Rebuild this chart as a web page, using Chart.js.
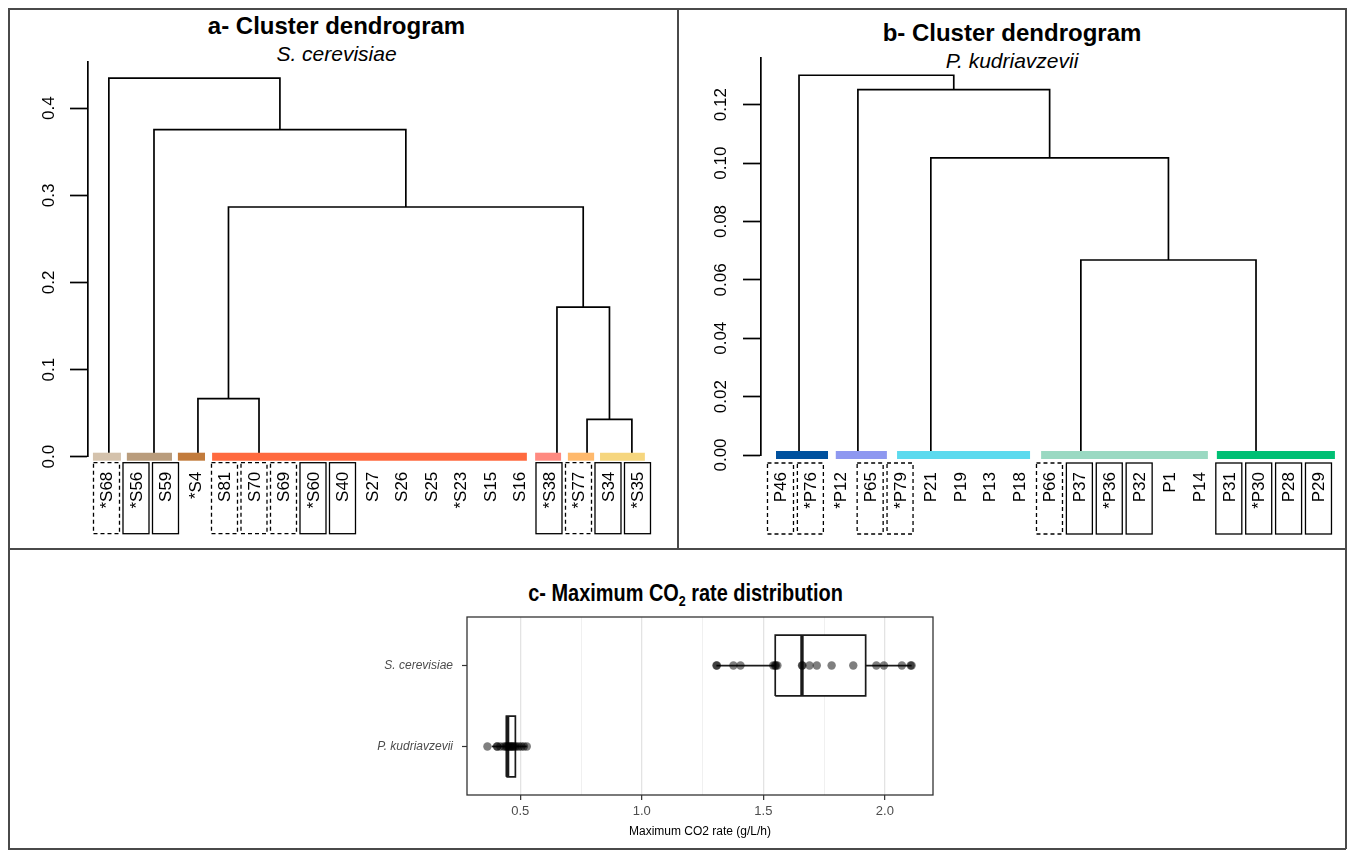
<!DOCTYPE html>
<html>
<head>
<meta charset="utf-8">
<script src="https://cdn.jsdelivr.net/npm/chart.js@4.4.0/dist/chart.umd.min.js"></script>
<style>
  body { margin: 0; background: #fff; width: 1349px; height: 850px; position: relative; overflow: hidden; font-family: "Liberation Sans", Arial, sans-serif; }
  .line { position: absolute; background: #4a4a4a; }
  canvas { position: absolute; }
  .title { position: absolute; text-align: center; font-weight: bold; font-size: 24px; line-height: 24px; color: #000; }
  .sub { position: absolute; text-align: center; font-style: italic; font-size: 21px; line-height: 21px; color: #000; }
  .ctitle span { display: inline-block; transform: scaleX(0.83); }
  .ctitle sub { font-size: 15px; line-height: 0; vertical-align: -5px; }
</style>
</head>
<body>
<div class="line" style="left:8px;top:8px;width:1338px;height:1.5px"></div>
<div class="line" style="left:8px;top:8px;width:1.5px;height:841px"></div>
<div class="line" style="left:1345px;top:8px;width:1.5px;height:841px"></div>
<div class="line" style="left:8px;top:848px;width:1338px;height:1.5px"></div>
<div class="line" style="left:677px;top:8px;width:1.5px;height:541px"></div>
<div class="line" style="left:8px;top:548px;width:1338px;height:2px"></div>

<div class="title" style="left:3px;top:14px;width:667px">a- Cluster dendrogram</div>
<div class="sub" style="left:3px;top:43px;width:667px">S. cerevisiae</div>
<div class="title" style="left:679px;top:21px;width:666px">b- Cluster dendrogram</div>
<div class="sub" style="left:679px;top:50px;width:666px">P. kudriavzevii</div>
<div class="title ctitle" style="left:350px;top:581px;width:672px"><span>c- Maximum CO<sub>2</sub> rate distribution</span></div>

<canvas id="dendA" width="667" height="538" style="left:9px;top:9px"></canvas>
<canvas id="dendB" width="666" height="538" style="left:679px;top:9px"></canvas>
<canvas id="boxC" width="1336" height="297" style="left:9px;top:550px"></canvas>

<script>
// ---- panel a data (S. cerevisiae) ----
const aLeaves = ['*S68', '*S56', 'S59', '*S4', 'S81', 'S70', 'S69', '*S60', 'S40', 'S27', 'S26', 'S25', '*S23', 'S15', 'S16', '*S38', '*S77', 'S34', '*S35'];
const aFrames = ['dash', 'solid', 'solid', 'none', 'dash', 'dash', 'dash', 'solid', 'solid', 'none', 'none', 'none', 'none', 'none', 'none', 'solid', 'dash', 'solid', 'solid'];
const aBarStart = [-0.46, 0.69, 2.42, 3.58, 14.53, 15.64, 16.73];
const aBarEnd = [0.49, 2.22, 3.34, 14.25, 15.41, 16.53, 18.25];
const aClusterX = [0.08, 1.61, 3.10, 5.17, 15.27, 16.29, 17.81];
// hclust style: negative = cluster, positive = earlier merge
const aMerges = [[-3, -4], [-6, -7], [-5, 2], [1, 3], [-2, 4], [-1, 5]];
const aHeights = [0.0667, 0.0429, 0.1716, 0.2866, 0.3755, 0.4344];
const aColors = ['#D4C2AC', '#B99C7C', '#C27B3C', '#FF6A3F', '#FF8A80', '#FFB96C', '#F6D67E'];

// ---- panel b data (P. kudriavzevii) ----
const bLeaves = ['P46', '*P76', '*P12', 'P65', '*P79', 'P21', 'P19', 'P13', 'P18', 'P66', 'P37', '*P36', 'P32', 'P1', 'P14', 'P31', '*P30', 'P28', 'P29'];
const bFrames = ['dash', 'dash', 'none', 'dash', 'dash', 'none', 'none', 'none', 'none', 'dash', 'solid', 'solid', 'solid', 'none', 'none', 'solid', 'solid', 'solid', 'solid'];
const bBarStart = [-0.15, 1.85, 3.90, 8.72, 14.60];
const bBarEnd = [1.59, 3.56, 8.35, 14.30, 18.55];
const bClusterX = [0.62, 2.59, 5.03, 10.05, 15.91];
const bMerges = [[-4, -5], [-3, 1], [-2, 2], [-1, 3]];
const bHeights = [0.0668, 0.1018, 0.1252, 0.1301];
const bColors = ['#00519E', '#8E98F0', '#5CDAEE', '#9AD9C2', '#00BF74'];

// ---- panel c data (max CO2 rate, g/L/h) ----
const boxCats = ['P. kudriavzevii', 'S. cerevisiae'];
const boxPos = [1, 2];
const boxQ1 = [0.443, 1.549];
const boxMedian = [0.448, 1.659];
const boxQ3 = [0.480, 1.921];
const whiskerLo = [0.383, 1.307];
const whiskerHi = [0.527, 2.110];
const kudValues = [0.365, 0.404, 0.406, 0.418, 0.432, 0.440, 0.445, 0.450, 0.455, 0.460, 0.463, 0.468, 0.472, 0.478, 0.485, 0.495, 0.505, 0.515, 0.527];
const cerValues = [1.307, 1.309, 1.377, 1.406, 1.541, 1.548, 1.552, 1.558, 1.659, 1.661, 1.690, 1.720, 1.781, 1.870, 1.965, 1.996, 2.070, 2.106, 2.110];

Chart.defaults.font.family = '"Liberation Sans", Arial, sans-serif';
Chart.defaults.color = '#000';
Chart.defaults.animation = false;

// leaf names with optional solid / dashed frames under the colour bars
const leafLabels = {
  id: 'leafLabels',
  afterDatasetsDraw(chart, args, opts) {
    const { ctx, chartArea, scales: { x } } = chart;
    const top = chartArea.bottom + opts.gap;
    ctx.save();
    opts.labels.forEach((lab, i) => {
      const px = x.getPixelForValue(i);
      if (opts.frames[i] !== 'none') {
        ctx.setLineDash(opts.frames[i] === 'dash' ? [4, 3] : []);
        ctx.lineWidth = 1.3;
        ctx.strokeStyle = '#000';
        ctx.strokeRect(px - 13, top, 26, 71);
      }
      ctx.save();
      ctx.translate(px + 1, top + 9);
      ctx.rotate(-Math.PI / 2);
      ctx.textAlign = 'right';
      ctx.textBaseline = 'middle';
      ctx.font = '17px "Liberation Sans", Arial, sans-serif';
      ctx.fillStyle = '#000';
      ctx.fillText(lab, 0, 0);
      ctx.restore();
    });
    ctx.restore();
  }
};

function dendroLinks(clusterX, merges, heights) {
  const nodeX = [];
  const sets = [];
  const child = c => c < 0 ? { x: clusterX[-c - 1], y: 0 } : { x: nodeX[c - 1], y: heights[c - 1] };
  merges.forEach((m, k) => {
    const L = child(m[0]);
    const R = child(m[1]);
    const h = heights[k];
    nodeX.push((L.x + R.x) / 2);
    sets.push({
      data: [{ x: L.x, y: L.y }, { x: L.x, y: h }, { x: R.x, y: h }, { x: R.x, y: R.y }],
      showLine: true, borderColor: '#000', borderWidth: 1.7, pointRadius: 0, order: 2
    });
  });
  return sets;
}

function colourBars(starts, ends, colors) {
  return starts.map((s, k) => ({
    data: [{ x: s, y: 0 }, { x: ends[k], y: 0 }],
    showLine: true, borderColor: colors[k], borderWidth: 8, borderCapStyle: 'butt',
    pointRadius: 0, clip: false, order: 1
  }));
}

function makeDendro(id, p) {
  new Chart(document.getElementById(id), {
    type: 'scatter',
    data: { datasets: colourBars(p.barStart, p.barEnd, p.colors).concat(dendroLinks(p.clusterX, p.merges, p.heights)) },
    options: {
      responsive: false,
      layout: { padding: { left: 0, top: p.padTop, right: p.padRight, bottom: p.padBottom } },
      plugins: { legend: { display: false }, tooltip: { enabled: false },
        leafLabels: { labels: p.leaves, frames: p.frames, gap: p.gap } },
      scales: {
        x: { display: false, min: p.xMin, max: p.xMax },
        y: {
          min: 0, max: p.yMax,
          afterFit: s => { s.width = p.axisW; },
          border: { display: true, color: '#000', width: 1.7 },
          grid: { drawOnChartArea: false, drawTicks: true, tickLength: 18, tickColor: '#000', tickWidth: 1.7 },
          ticks: {
            stepSize: p.yStep, includeBounds: false, minRotation: 90, maxRotation: 90,
            crossAlign: 'center', padding: p.tickPad,
            font: { size: 17 }, color: '#000',
            callback: v => v.toFixed(p.decimals)
          }
        }
      }
    },
    plugins: [leafLabels]
  });
}

makeDendro('dendA', {
  leaves: aLeaves, frames: aFrames, barStart: aBarStart, barEnd: aBarEnd, colors: aColors,
  clusterX: aClusterX, merges: aMerges, heights: aHeights,
  xMin: -0.627, xMax: 18.763, yMax: 0.453, yStep: 0.1, decimals: 1,
  axisW: 79, padTop: 53, padRight: 16, padBottom: 90.3, tickPad: 9, gap: 6
});

makeDendro('dendB', {
  leaves: bLeaves, frames: bFrames, barStart: bBarStart, barEnd: bBarEnd, colors: bColors,
  clusterX: bClusterX, merges: bMerges, heights: bHeights,
  xMin: -0.652, xMax: 18.72, yMax: 0.1359, yStep: 0.02, decimals: 2,
  axisW: 82, padTop: 49.3, padRight: 5, padBottom: 92, tickPad: 5, gap: 8
});

// ---- box plot ----
const panelBorder = {
  id: 'panelBorder',
  afterDraw(chart) {
    const { ctx, chartArea: a } = chart;
    ctx.save();
    ctx.strokeStyle = '#333';
    ctx.lineWidth = 1.3;
    ctx.strokeRect(a.left, a.top, a.right - a.left, a.bottom - a.top);
    ctx.restore();
  }
};

const boxSets = [];
boxPos.forEach((y, k) => {
  const lo = y - 0.375, hi = y + 0.375;
  boxSets.push({
    data: [{ x: boxQ1[k], y: lo }, { x: boxQ3[k], y: lo }, { x: boxQ3[k], y: hi }, { x: boxQ1[k], y: hi }, { x: boxQ1[k], y: lo }],
    showLine: true, fill: 'shape', backgroundColor: '#fff', borderColor: '#1a1a1a', borderWidth: 1.7, pointRadius: 0, order: 4
  });
  boxSets.push({
    data: [{ x: whiskerLo[k], y: y }, { x: boxQ1[k], y: y }],
    showLine: true, borderColor: '#1a1a1a', borderWidth: 1.7, pointRadius: 0, order: 3
  });
  boxSets.push({
    data: [{ x: boxQ3[k], y: y }, { x: whiskerHi[k], y: y }],
    showLine: true, borderColor: '#1a1a1a', borderWidth: 1.7, pointRadius: 0, order: 3
  });
  boxSets.push({
    data: [{ x: boxMedian[k], y: lo }, { x: boxMedian[k], y: hi }],
    showLine: true, borderColor: '#1a1a1a', borderWidth: 3.4, pointRadius: 0, order: 2
  });
});
[kudValues, cerValues].forEach((vals, k) => {
  boxSets.push({
    data: vals.map(v => ({ x: v, y: boxPos[k] })),
    pointRadius: 4.2, pointBackgroundColor: 'rgba(0,0,0,0.5)', pointBorderWidth: 0, order: 0
  });
});

const isMajor = v => Math.abs(v * 2 - Math.round(v * 2)) < 1e-6;

new Chart(document.getElementById('boxC'), {
  type: 'scatter',
  data: { datasets: boxSets },
  options: {
    responsive: false,
    layout: { padding: { left: 0, top: 67, right: 412, bottom: 0 } },
    plugins: { legend: { display: false }, tooltip: { enabled: false } },
    scales: {
      x: {
        min: 0.281, max: 2.198,
        afterFit: s => { s.height = 52; },
        border: { display: false },
        grid: {
          color: c => isMajor(c.tick.value) ? '#e3e3e3' : '#eeeeee',
          lineWidth: c => isMajor(c.tick.value) ? 1.3 : 0.9,
          tickColor: c => isMajor(c.tick.value) ? '#333' : 'rgba(0,0,0,0)',
          tickLength: 5, tickWidth: 1.2
        },
        ticks: {
          stepSize: 0.25, includeBounds: false, maxRotation: 0, padding: 4,
          font: { size: 13 }, color: '#4d4d4d',
          callback: v => isMajor(v) ? v.toFixed(1) : ''
        },
        title: { display: true, text: 'Maximum CO2 rate (g/L/h)', font: { size: 12 }, color: '#000', padding: { top: 0, bottom: 8 } }
      },
      y: {
        min: 0.4, max: 2.6,
        afterFit: s => { s.width = 458; },
        afterBuildTicks: s => { s.ticks = boxPos.map(v => ({ value: v })); },
        border: { display: false },
        grid: { drawOnChartArea: false, drawTicks: true, tickLength: 5, tickColor: '#333', tickWidth: 1.2 },
        ticks: {
          padding: 9, font: { size: 12, style: 'italic' }, color: '#4d4d4d',
          callback: v => boxCats[boxPos.indexOf(v)]
        }
      }
    }
  },
  plugins: [panelBorder]
});
</script>
</body>
</html>
